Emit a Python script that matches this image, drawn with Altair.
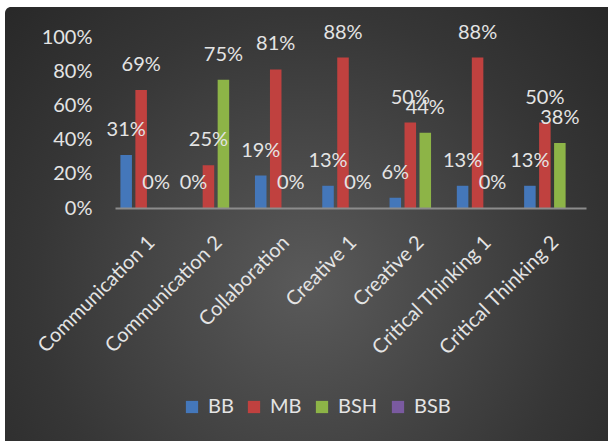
import altair as alt
import pandas as pd

categories = ["Communication 1", "Communication 2", "Collaboration", "Creative 1",
              "Creative 2", "Critical Thinking 1", "Critical Thinking 2"]
series = ["BB", "MB", "BSH", "BSB"]
bb = [0.31, 0.00, 0.19, 0.13, 0.06, 0.13, 0.13]
mb = [0.69, 0.25, 0.81, 0.88, 0.50, 0.88, 0.50]
bsh = [0.00, 0.75, 0.00, 0.00, 0.44, 0.00, 0.38]
bsb = [None, None, None, None, None, None, None]
colors = ["#4477BA", "#C0413F", "#8DB447", "#7A5AA0"]
y_ticks = [0, 0.2, 0.4, 0.6, 0.8, 1]

rows = []
for name, vals in zip(series, [bb, mb, bsh, bsb]):
    for c, v in zip(categories, vals):
        rows.append({"category": c, "series": name, "value": v})
df = pd.DataFrame(rows)

W, H = 471, 171
PL, PT, PR, PB = 115, 37, 22, 233
FONT = "Lato"
FS = 20
TXT = "#e4e4e4"

x_enc = alt.X("category:N", sort=categories,
              scale=alt.Scale(paddingInner=0, paddingOuter=0),
              axis=alt.Axis(title=None, labelAngle=-45, labelAlign="right",
                            labelBaseline="middle", ticks=False, labelPadding=31,
                            labelOffset=3, labelOverlap=False,
                            domainColor="#8c8c8c", domainWidth=2, zindex=1,
                            labelFont=FONT, labelFontSize=FS, labelColor=TXT))
xo_enc = alt.XOffset("series:N", sort=series,
                     scale=alt.Scale(domain=series, paddingInner=0.23, paddingOuter=0.36))
y_enc = alt.Y("value:Q", scale=alt.Scale(domain=[0, 1], nice=False),
              axis=alt.Axis(title=None, values=y_ticks, format=".0%", grid=False,
                            domain=False, ticks=False, labelPadding=23, zindex=1,
                            labelOverlap=False, labelSeparation=0,
                            labelFont=FONT, labelFontSize=FS, labelColor=TXT))

bg = alt.Chart(pd.DataFrame({"a": [0]})).mark_rect(
    fill=alt.Gradient(
        gradient="radial",
        x1=0.5, y1=0.6, r1=0.0, x2=0.5, y2=0.6, r2=0.75,
        stops=[alt.GradientStop(offset=0, color="#5a5a5a"),
               alt.GradientStop(offset=0.6, color="#363636"),
               alt.GradientStop(offset=1, color="#242424")]),
    cornerRadiusTopLeft=6,
).encode(x=alt.value(-(PL - 5)), x2=alt.value(W + PR),
         y=alt.value(-(PT - 7)), y2=alt.value(H + PB))

bars = alt.Chart(df).mark_bar().encode(
    x=x_enc, xOffset=xo_enc, y=y_enc,
    color=alt.Color("series:N", sort=series,
                    scale=alt.Scale(domain=series, range=colors),
                    legend=alt.Legend(title=None, orient="none", direction="horizontal",
                                      legendX=67, legendY=360, symbolType="square",
                                      symbolSize=150, symbolStrokeWidth=0,
                                      labelFont=FONT, labelFontSize=FS, labelColor=TXT,
                                      labelOffset=6, columnPadding=10)),
)

labels = alt.Chart(df).transform_filter("isValid(datum.value)").mark_text(
    dy=-25, baseline="middle", align="center", font=FONT, fontSize=FS, color=TXT
).encode(x=x_enc, xOffset=xo_enc, y=y_enc, text=alt.Text("value:Q", format=".0%"))

chart = alt.layer(bg, bars, labels).properties(
    width=W, height=H,
    autosize=alt.AutoSizeParams(type="none"),
    padding={"left": PL, "top": PT, "right": PR, "bottom": PB},
).configure(background="white").configure_view(stroke=None).configure_axisY(
    labelOverlap=False)

chart.save("out.html", embed_options={"renderer": "svg", "actions": False})
